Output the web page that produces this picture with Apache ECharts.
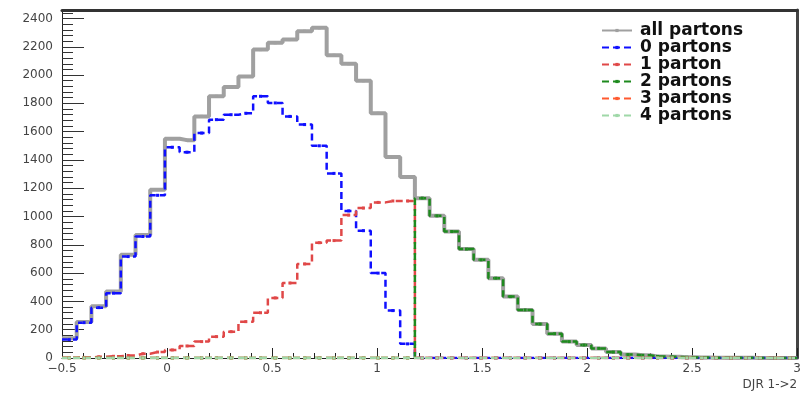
<!DOCTYPE html>
<html>
<head>
	<meta charset="utf-8">
	<title>DJR 1->2</title>
	<style>
		html, body { margin: 0; padding: 0; background: #fff; }
		#chart { width: 804px; height: 396px; }
	</style>
</head>
<body>
	<div id="chart"></div>
<script type="text/javascript" src="https://cdn.jsdelivr.net/npm/echarts@6/dist/echarts.min.js"></script>
<script type="text/javascript">
	// histogram binning: 50 bins from -0.5 to 3
	var binLow = -0.5;
	var binWidth = 0.07;

	var xTicks = [-0.5, 0, 0.5, 1, 1.5, 2, 2.5, 3];

	var allPartons = [140, 255, 365, 470, 730, 870, 1190, 1550, 1540, 1708,
		1850, 1915, 1990, 2180, 2228, 2251, 2310, 2334, 2140, 2080,
		1960, 1730, 1420, 1280, 1130, 1005, 894, 770, 694, 564,
		434, 340, 240, 172, 116, 92, 68, 42, 24, 19,
		11, 8, 5, 3, 2, 1, 1, 0, 0, 0];
	var parton0 = [130, 250, 356, 458, 717, 859, 1150, 1490, 1455, 1590,
		1685, 1720, 1730, 1850, 1803, 1708, 1650, 1500, 1305, 1040,
		900, 600, 335, 100, 0, 0, 0, 0, 0, 0,
		0, 0, 0, 0, 0, 0, 0, 0, 0, 0,
		0, 0, 0, 0, 0, 0, 0, 0, 0, 0];
	var parton1 = [2, 4, 8, 12, 18, 30, 42, 57, 85, 116,
		151, 186, 257, 320, 425, 530, 665, 815, 830, 1010,
		1060, 1100, 1110, 1110, 0, 0, 0, 0, 0, 0,
		0, 0, 0, 0, 0, 0, 0, 0, 0, 0,
		0, 0, 0, 0, 0, 0, 0, 0, 0, 0];
	var parton2 = [0, 0, 0, 0, 0, 0, 0, 0, 0, 0,
		0, 0, 0, 0, 0, 0, 0, 0, 0, 0,
		0, 0, 0, 0, 1130, 1005, 894, 770, 694, 564,
		434, 340, 240, 172, 116, 92, 68, 42, 24, 19,
		11, 8, 5, 3, 2, 1, 1, 0, 0, 0];
	var parton3 = [0, 0, 0, 0, 0, 0, 0, 0, 0, 0,
		0, 0, 0, 0, 0, 0, 0, 0, 0, 0,
		0, 0, 0, 0, 0, 0, 0, 0, 0, 0,
		0, 0, 0, 0, 0, 0, 0, 0, 0, 0,
		0, 0, 0, 0, 0, 0, 0, 0, 0, 0];
	var parton4 = [0, 0, 0, 0, 0, 0, 0, 0, 0, 0,
		0, 0, 0, 0, 0, 0, 0, 0, 0, 0,
		0, 0, 0, 0, 0, 0, 0, 0, 0, 0,
		0, 0, 0, 0, 0, 0, 0, 0, 0, 0,
		0, 0, 0, 0, 0, 0, 0, 0, 0, 0];

	var seriesNames = ['all partons', '0 partons', '1 parton', '2 partons', '3 partons', '4 partons'];
	var seriesColors = ['#a0a0a0', '#1010ff', '#e04848', '#1e8a1e', '#ff5a30', '#9fd8a8'];

	// points at bin centres, plus the two outer edges, drawn as a step line
	function histPoints(vals) {
		var pts = [{ value: [binLow, vals[0]], symbol: 'none' }];
		for (var i = 0; i < vals.length; i++) {
			pts.push([binLow + binWidth * (i + 0.5), vals[i]]);
		}
		pts.push({ value: [binLow + binWidth * vals.length, vals[vals.length - 1]], symbol: 'none' });
		return pts;
	}

	function makeSeries(name, color, vals, width, dashed) {
		return {
			name: name,
			type: 'line',
			step: 'middle',
			data: histPoints(vals),
			symbol: 'rect',
			symbolSize: 3,
			showAllSymbol: true,
			itemStyle: { color: color },
			lineStyle: { color: color, width: width, type: dashed ? [7, 4] : 'solid' },
			emphasis: { disabled: true },
			animation: false
		};
	}

	var myChart = echarts.init(document.getElementById('chart'));

	var font = 'DejaVu Sans';
	var option = {
		backgroundColor: '#fff',
		animation: false,
		grid: { left: 62, right: 4, top: 10, bottom: 38 },
		legend: {
			orient: 'vertical',
			left: 596,
			top: 17,
			itemWidth: 30,
			itemHeight: 4,
			itemGap: 0,
			data: seriesNames,
			textStyle: { fontFamily: font, fontSize: 17, fontWeight: 'bold', color: '#111', lineHeight: 17, padding: [0, 0, 0, 3] }
		},
		xAxis: [{
			type: 'value',
			min: xTicks[0],
			max: xTicks[xTicks.length - 1],
			interval: 0.5,
			name: 'DJR 1->2',
			nameLocation: 'end',
			nameGap: 0,
			nameTextStyle: { fontFamily: font, fontSize: 12, color: '#444', align: 'right', verticalAlign: 'top', padding: [21, 0, 0, 0] },
			axisLine: { onZero: false, lineStyle: { color: '#222', width: 1 } },
			axisTick: { inside: true, length: 10, lineStyle: { color: '#222' } },
			minorTick: { show: true, splitNumber: 5, length: 5, lineStyle: { color: '#222' } },
			axisLabel: {
				fontFamily: font, fontSize: 12, color: '#444', margin: 5,
				formatter: function (v) { return v < 0 ? '\u2212' + (-v) : String(v); }
			},
			splitLine: { show: false }
		}, {
			type: 'value',
			position: 'top',
			min: xTicks[0],
			max: xTicks[xTicks.length - 1],
			axisLine: { onZero: false, lineStyle: { color: '#333', width: 3 } },
			axisTick: { show: false },
			axisLabel: { show: false },
			splitLine: { show: false }
		}],
		yAxis: [{
			type: 'value',
			min: 0,
			max: 2460,
			interval: 200,
			axisLine: { show: true, onZero: false, lineStyle: { color: '#222', width: 1 } },
			axisTick: { inside: true, length: 22, lineStyle: { color: '#333' } },
			minorTick: { show: true, splitNumber: 5, length: 11, lineStyle: { color: '#333' } },
			axisLabel: {
				fontFamily: font, fontSize: 12, color: '#444', margin: 9, showMaxLabel: false,
				formatter: function (v) { return String(v); }
			},
			splitLine: { show: false }
		}, {
			type: 'value',
			position: 'right',
			min: 0,
			max: 2460,
			axisLine: { show: true, onZero: false, lineStyle: { color: '#444', width: 3 } },
			axisTick: { show: false },
			axisLabel: { show: false },
			splitLine: { show: false }
		}],
		series: [
			makeSeries(seriesNames[0], seriesColors[0], allPartons, 4, false),
			makeSeries(seriesNames[1], seriesColors[1], parton0, 2.5, true),
			makeSeries(seriesNames[2], seriesColors[2], parton1, 2.5, true),
			makeSeries(seriesNames[3], seriesColors[3], parton2, 2.5, true),
			makeSeries(seriesNames[4], seriesColors[4], parton3, 2.5, true),
			makeSeries(seriesNames[5], seriesColors[5], parton4, 2.5, true)
		]
	};

	myChart.setOption(option);
</script>
</body>
</html>
